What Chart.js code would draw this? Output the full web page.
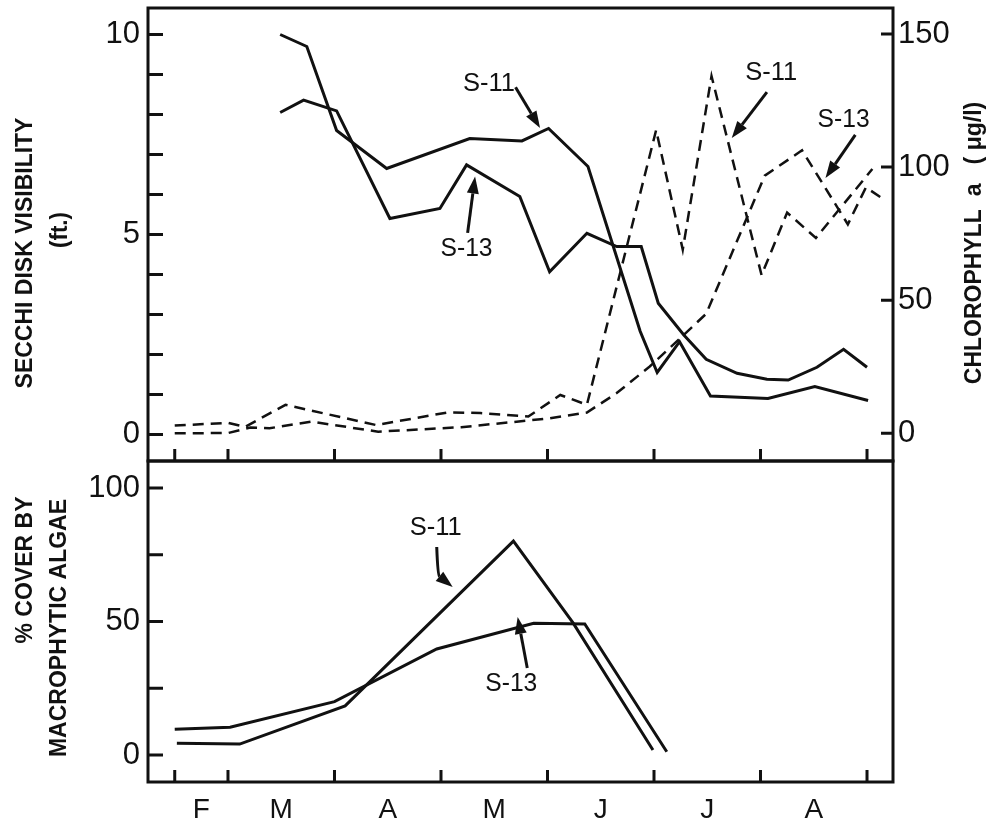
<!DOCTYPE html>
<html>
<head>
<meta charset="utf-8">
<script src="https://cdn.jsdelivr.net/npm/chart.js@4.4.1/dist/chart.umd.min.js"></script>
<style>
  html, body { margin: 0; padding: 0; background: #fff; }
  #wrap { position: relative; width: 996px; height: 824px; }
  #top { position: absolute; left: 0; top: 0; }
  #bottom { position: absolute; left: 0; top: 440px; }
</style>
</head>
<body>
<div id="wrap">
  <canvas id="top" width="996" height="470"></canvas>
  <canvas id="bottom" width="996" height="384"></canvas>
</div>
<script>
// x is in months: 1 = Mar 1, 2 = Apr 1 ... (0.5 = mid Feb)
const monthLabels = ['F', 'M', 'A', 'M', 'J', 'J', 'A'];
const monthCenters = [0.75, 1.5, 2.5, 3.5, 4.5, 5.5, 6.5];
const monthBounds = [0.5, 1, 2, 3, 4, 5, 6, 7];

const secchiTicks = [0, 1, 2, 3, 4, 5, 6, 7, 8, 9, 10];
const chlTicks = [0, 50, 100, 150];
const coverTicks = [0, 25, 50, 75, 100];

// Secchi disk visibility (ft.)
const secchiX_S11 = [1.49, 1.74, 2.02, 2.49, 3.27, 3.76, 4.01, 4.38, 4.87, 5.03, 5.24, 5.53, 6.07, 6.51, 7.01];
const secchiS11 = [10.0, 9.7, 7.6, 6.65, 7.4, 7.34, 7.65, 6.7, 2.58, 1.55, 2.32, 0.96, 0.9, 1.2, 0.85];
const secchiX_S13 = [1.49, 1.71, 2.02, 2.52, 2.99, 3.24, 3.74, 4.02, 4.37, 4.65, 4.88, 5.04, 5.28, 5.49, 5.78, 6.06, 6.26, 6.53, 6.78, 7.00];
const secchiS13 = [8.05, 8.36, 8.09, 5.4, 5.65, 6.74, 5.95, 4.07, 5.03, 4.7, 4.7, 3.28, 2.49, 1.88, 1.53, 1.38, 1.36, 1.68, 2.13, 1.68];

// chlorophyll a (ug/l)
const chlX_S11 = [0.50, 1.00, 1.16, 1.54, 2.39, 3.07, 3.37, 3.82, 4.12, 4.37, 5.02, 5.27, 5.54, 6.01, 6.25, 6.52, 7.05];
const chlS11 = [2.9, 3.9, 2.4, 10.7, 3.1, 7.9, 7.6, 6.3, 14.4, 10.7, 113.9, 69.0, 134.2, 59.4, 82.9, 73.4, 99.3];
const chlX_S13 = [0.50, 1.00, 1.21, 1.39, 1.78, 2.41, 3.19, 4.02, 4.37, 4.65, 4.96, 5.24, 5.49, 6.04, 6.39, 6.82, 6.99, 7.13];
const chlS13 = [0.0, 0.1, 2.2, 1.9, 4.4, 0.6, 2.3, 5.6, 7.8, 15.1, 25.1, 35.5, 44.9, 96.8, 106.3, 78.5, 92.4, 88.6];

// % cover by macrophytic algae
const coverX_S11 = [0.52, 1.11, 2.10, 3.68, 4.24, 4.99];
const coverS11 = [4.4, 4.1, 18.4, 80.1, 49.5, 1.9];
const coverX_S13 = [0.50, 1.02, 2.00, 2.96, 3.87, 4.35, 5.12];
const coverS13 = [9.6, 10.4, 20.0, 39.7, 49.3, 49.1, 1.2];

const ink = '#111';
const face = '"Liberation Sans", Arial, sans-serif';

// station labels with arrows, placed in data units
const notesTop = [
  { text: 'S-11', axis: 'ySec', at: [3.45, 8.76], from: [3.70, 8.68], to: [3.93, 7.66] },
  { text: 'S-13', axis: 'ySec', at: [3.24, 4.64], from: [3.25, 5.04], to: [3.32, 6.45] },
  { text: 'S-11', axis: 'yChl', at: [6.10, 135.3], from: [6.06, 128.2], to: [5.73, 110.9] },
  { text: 'S-13', axis: 'yChl', at: [6.78, 117.7], from: [6.89, 112.1], to: [6.61, 95.9] }
];
const notesBottom = [
  { text: 'S-11', axis: 'yCov', at: [2.95, 85.0], from: [2.96, 77.9], via: [2.97, 67.4], to: [3.11, 62.9] },
  { text: 'S-13', axis: 'yCov', at: [3.66, 26.6], from: [3.81, 32.6], to: [3.72, 51.7] }
];

const pts = (xs, ys) => xs.map((x, i) => ({ x, y: ys[i] }));

function line(data, axis, dashed) {
  return {
    data, yAxisID: axis,
    borderColor: ink, borderWidth: dashed ? 2.5 : 3,
    borderDash: dashed ? [11, 7] : [],
    pointRadius: 0, tension: 0, fill: false
  };
}

// pin an axis box to a fixed size, no label overflow padding
function pin(prop, size) {
  return s => {
    s[prop] = size;
    s.paddingTop = 0; s.paddingBottom = 0; s.paddingLeft = 0; s.paddingRight = 0;
  };
}

function arrow(ctx, p0, p1, p2) {
  const tip = p2 || p1;
  const ctrl = p2 ? p1 : null;
  const from = ctrl || p0;
  const ang = Math.atan2(tip[1] - from[1], tip[0] - from[0]);
  const len = 17, hw = 6;
  const base = [tip[0] - len * Math.cos(ang), tip[1] - len * Math.sin(ang)];
  ctx.beginPath();
  ctx.moveTo(p0[0], p0[1]);
  if (ctrl) ctx.quadraticCurveTo(ctrl[0], ctrl[1], base[0], base[1]);
  else ctx.lineTo(base[0], base[1]);
  ctx.lineWidth = 3;
  ctx.stroke();
  ctx.beginPath();
  ctx.moveTo(tip[0], tip[1]);
  ctx.lineTo(base[0] + hw * Math.sin(ang), base[1] - hw * Math.cos(ang));
  ctx.lineTo(base[0] - hw * Math.sin(ang), base[1] + hw * Math.cos(ang));
  ctx.closePath();
  ctx.fill();
}

function vtext(ctx, text, x, y, maxW) {
  ctx.save();
  ctx.translate(x, y);
  ctx.rotate(-Math.PI / 2);
  ctx.fillText(text, 0, 0, maxW);
  ctx.restore();
}

function decor(cfg) {
  return {
    id: 'decor',
    afterDraw(chart) {
      const ctx = chart.ctx, a = chart.chartArea, sx = chart.scales.x;
      ctx.save();
      ctx.strokeStyle = ink;
      ctx.fillStyle = ink;
      ctx.lineWidth = 3;
      ctx.strokeRect(a.left, a.top, a.right - a.left, a.bottom - a.top);

      ctx.beginPath();
      monthBounds.forEach(v => {
        const px = sx.getPixelForValue(v);
        ctx.moveTo(px, a.bottom);
        ctx.lineTo(px, a.bottom - 12);
      });
      const yl = chart.scales[cfg.left];
      cfg.leftTicks.forEach(v => {
        const py = yl.getPixelForValue(v);
        ctx.moveTo(a.left, py);
        ctx.lineTo(a.left + 15, py);
      });
      if (cfg.right) {
        const yr = chart.scales[cfg.right];
        chlTicks.forEach(v => {
          const py = yr.getPixelForValue(v);
          ctx.moveTo(a.right, py);
          ctx.lineTo(a.right - 12, py);
        });
      }
      ctx.stroke();

      ctx.font = '26px ' + face;
      ctx.textAlign = 'center';
      ctx.textBaseline = 'middle';
      cfg.notes.forEach(n => {
        const ys = chart.scales[n.axis];
        const P = p => [sx.getPixelForValue(p[0]), ys.getPixelForValue(p[1])];
        ctx.fillText(n.text, P(n.at)[0], P(n.at)[1], 52);
        if (n.via) arrow(ctx, P(n.from), P(n.via), P(n.to));
        else arrow(ctx, P(n.from), P(n.to));
      });

      ctx.font = 'bold 23px ' + face;
      cfg.titles.forEach(t => vtext(ctx, t.text, t.x, t.y, t.w));
      ctx.restore();
    }
  };
}

const xBase = {
  type: 'linear', min: 0.249, max: 7.244,
  grid: { display: false, drawTicks: false },
  border: { display: false }
};

new Chart(document.getElementById('top'), {
  type: 'line',
  data: {
    datasets: [
      line(pts(secchiX_S11, secchiS11), 'ySec', false),
      line(pts(secchiX_S13, secchiS13), 'ySec', false),
      line(pts(chlX_S11, chlS11), 'yChl', true),
      line(pts(chlX_S13, chlS13), 'yChl', true)
    ]
  },
  options: {
    responsive: false,
    animation: false,
    layout: { padding: { top: 8, left: 0, right: 0, bottom: 0 } },
    scales: {
      x: { ...xBase, ticks: { display: false }, afterFit: pin('height', 9) },
      ySec: {
        type: 'linear', position: 'left', min: -0.6625, max: 10.6625,
        afterBuildTicks: s => { s.ticks = secchiTicks.map(v => ({ value: v })); },
        ticks: { color: ink, padding: 8, font: { family: face, size: 31 }, callback: v => (v % 5 === 0 ? String(v) : '') },
        grid: { display: false, drawTicks: false }, border: { display: false },
        afterFit: pin('width', 148)
      },
      yChl: {
        type: 'linear', position: 'right', min: -10.41, max: 159.77,
        afterBuildTicks: s => { s.ticks = chlTicks.map(v => ({ value: v })); },
        ticks: { color: ink, padding: 5, font: { family: face, size: 31 } },
        grid: { display: false, drawTicks: false }, border: { display: false },
        afterFit: pin('width', 103)
      }
    },
    plugins: { legend: { display: false }, tooltip: { enabled: false } }
  },
  plugins: [decor({
    left: 'ySec', leftTicks: secchiTicks, right: 'yChl', notes: notesTop,
    titles: [
      { text: 'SECCHI DISK VISIBILITY', x: 26, y: 253, w: 292 },
      { text: '(ft.)', x: 61, y: 230, w: 36 },
      { text: 'CHLOROPHYLL  a   ( \u03bcg/l)', x: 975, y: 243, w: 380 }
    ]
  })]
});

new Chart(document.getElementById('bottom'), {
  type: 'line',
  data: {
    datasets: [
      line(pts(coverX_S11, coverS11), 'yCov', false),
      line(pts(coverX_S13, coverS13), 'yCov', false)
    ]
  },
  options: {
    responsive: false,
    animation: false,
    layout: { padding: { top: 21, left: 0, right: 103, bottom: 0 } },
    scales: {
      x: {
        ...xBase,
        afterBuildTicks: s => { s.ticks = monthCenters.map(v => ({ value: v })); },
        ticks: { color: ink, padding: 11, autoSkip: false, maxRotation: 0, font: { family: face, size: 28 }, callback: (v, i) => monthLabels[i] },
        afterFit: pin('height', 42)
      },
      yCov: {
        type: 'linear', position: 'left', min: -10.11, max: 110.11,
        afterBuildTicks: s => { s.ticks = coverTicks.map(v => ({ value: v })); },
        ticks: { color: ink, padding: 8, font: { family: face, size: 31 }, callback: v => (v % 50 === 0 ? String(v) : '') },
        grid: { display: false, drawTicks: false }, border: { display: false },
        afterFit: pin('width', 148)
      }
    },
    plugins: { legend: { display: false }, tooltip: { enabled: false } }
  },
  plugins: [decor({
    left: 'yCov', leftTicks: coverTicks, right: null, notes: notesBottom,
    titles: [
      { text: '% COVER BY', x: 26, y: 130, w: 155 },
      { text: 'MACROPHYTIC ALGAE', x: 60, y: 188, w: 272 }
    ]
  })]
});
</script>
</body>
</html>
